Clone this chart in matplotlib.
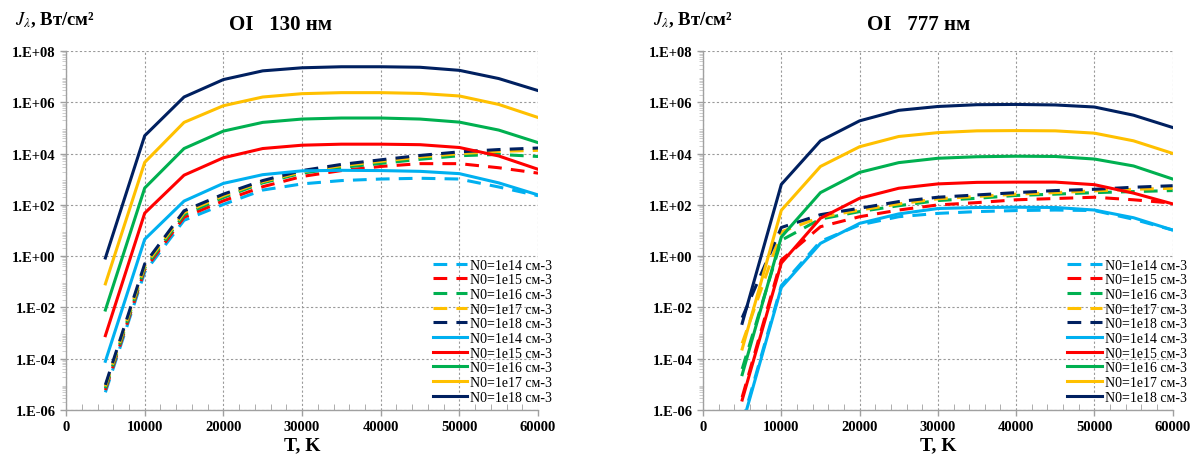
import numpy as np
import matplotlib
matplotlib.use("Agg")
import matplotlib.pyplot as plt
from matplotlib.ticker import FixedLocator, FuncFormatter, MultipleLocator

plt.rcParams["font.family"] = ["Liberation Serif", "DejaVu Serif"]
plt.rcParams["mathtext.fontset"] = "stix"

# temperatures, K
T = [5000, 10000, 15000, 20000, 25000, 30000, 35000, 40000, 45000, 50000, 55000, 60000]

labels = ["N0=1e14 см-3", "N0=1e15 см-3", "N0=1e16 см-3", "N0=1e17 см-3", "N0=1e18 см-3"]
colors = ["#00B0F0", "#FF0000", "#00B050", "#FFC000", "#002060"]

# log10 of J
# OI 130 nm, solid lines
oi130_solid_14 = [-4.10, 0.66, 2.15, 2.84, 3.18, 3.33, 3.35, 3.34, 3.31, 3.22, 2.86, 2.39]
oi130_solid_15 = [-3.10, 1.68, 3.16, 3.84, 4.20, 4.33, 4.37, 4.37, 4.35, 4.24, 3.91, 3.39]
oi130_solid_16 = [-2.10, 2.66, 4.20, 4.88, 5.22, 5.35, 5.39, 5.39, 5.35, 5.23, 4.92, 4.43]
oi130_solid_17 = [-1.08, 3.66, 5.22, 5.87, 6.21, 6.34, 6.38, 6.38, 6.35, 6.25, 5.92, 5.41]
oi130_solid_18 = [-0.07, 4.70, 6.21, 6.89, 7.23, 7.35, 7.39, 7.39, 7.37, 7.25, 6.93, 6.46]
# OI 130 nm, dashed lines
oi130_dash_14 = [-5.31, -0.62, 1.40, 2.02, 2.58, 2.82, 2.95, 3.01, 3.04, 3.01, 2.70, 2.36]
oi130_dash_15 = [-5.22, -0.52, 1.52, 2.16, 2.71, 3.11, 3.34, 3.50, 3.61, 3.61, 3.45, 3.24]
oi130_dash_16 = [-5.15, -0.45, 1.62, 2.29, 2.86, 3.24, 3.46, 3.62, 3.78, 3.92, 3.97, 3.89]
oi130_dash_17 = [-5.08, -0.38, 1.70, 2.36, 2.91, 3.29, 3.53, 3.70, 3.87, 4.00, 4.09, 4.13]
oi130_dash_18 = [-5.02, -0.30, 1.77, 2.42, 2.95, 3.34, 3.58, 3.76, 3.93, 4.07, 4.16, 4.22]

# OI 777 nm, solid lines
oi777_solid_14 = [-6.60, -1.22, 0.50, 1.28, 1.65, 1.86, 1.90, 1.91, 1.90, 1.80, 1.50, 1.02]
oi777_solid_15 = [-5.61, -0.27, 1.48, 2.26, 2.65, 2.82, 2.88, 2.89, 2.89, 2.79, 2.46, 2.04]
oi777_solid_16 = [-4.62, 0.75, 2.48, 3.27, 3.65, 3.82, 3.88, 3.90, 3.89, 3.79, 3.52, 3.01]
oi777_solid_17 = [-3.62, 1.79, 3.50, 4.27, 4.67, 4.82, 4.89, 4.90, 4.89, 4.80, 4.50, 4.01]
oi777_solid_18 = [-2.62, 2.80, 4.50, 5.28, 5.69, 5.84, 5.91, 5.92, 5.90, 5.82, 5.50, 5.02]
# OI 777 nm, dashed lines
oi777_dash_14 = [-6.50, -1.15, 0.58, 1.22, 1.54, 1.67, 1.74, 1.78, 1.80, 1.78, 1.44, 1.02]
oi777_dash_15 = [-5.50, -0.15, 1.15, 1.54, 1.80, 2.00, 2.09, 2.20, 2.25, 2.30, 2.20, 2.07]
oi777_dash_16 = [-4.40, 0.62, 1.45, 1.74, 1.97, 2.17, 2.26, 2.37, 2.42, 2.48, 2.52, 2.56]
oi777_dash_17 = [-3.40, 0.95, 1.52, 1.80, 2.04, 2.24, 2.33, 2.42, 2.48, 2.55, 2.61, 2.65]
oi777_dash_18 = [-2.40, 1.12, 1.62, 1.87, 2.13, 2.30, 2.39, 2.48, 2.56, 2.61, 2.69, 2.75]

panels = [
    ("OI   130 нм",
     [oi130_dash_14, oi130_dash_15, oi130_dash_16, oi130_dash_17, oi130_dash_18],
     [oi130_solid_14, oi130_solid_15, oi130_solid_16, oi130_solid_17, oi130_solid_18]),
    ("OI   777 нм",
     [oi777_dash_14, oi777_dash_15, oi777_dash_16, oi777_dash_17, oi777_dash_18],
     [oi777_solid_14, oi777_solid_15, oi777_solid_16, oi777_solid_17, oi777_solid_18]),
]

fig = plt.figure(figsize=(11.92, 4.56), dpi=100)
boxes = [[0.0554, 0.0987, 0.396, 0.787], [0.5898, 0.0987, 0.394, 0.787]]
title_x = [0.192, 0.727]
ylab_x = [0.013, 0.548]
leg_anchor = [(1.03, 0.018), (1.03, 0.018)]
axis_grey = "#A0A0A0"


def exp_fmt(v, pos):
    e = int(round(np.log10(v)))
    return f"1.E{e:+03d}"


for i, (title, dashed, solid) in enumerate(panels):
    ax = fig.add_axes(boxes[i])
    for vals, c, lab in zip(dashed, colors, labels):
        ax.plot(T, np.power(10.0, vals), color=c, lw=2.2, ls=(0, (4.5, 3)), label=lab)
    for vals, c, lab in zip(solid, colors, labels):
        ax.plot(T, np.power(10.0, vals), color=c, lw=2.2, label=lab)

    ax.set_yscale("log")
    ax.set_xlim(0, 60000)
    ax.set_ylim(1e-6, 1e8)
    ax.xaxis.set_major_locator(MultipleLocator(10000))
    ax.xaxis.set_minor_locator(MultipleLocator(2000))
    ax.yaxis.set_major_locator(FixedLocator([10.0 ** k for k in range(-6, 9, 2)]))
    minors = [m * 10.0 ** k for k in range(-6, 8) for m in range(2, 10)]
    ax.yaxis.set_minor_locator(FixedLocator(minors))
    ax.yaxis.set_major_formatter(FuncFormatter(exp_fmt))
    ax.yaxis.set_minor_formatter(FuncFormatter(lambda v, p: ""))

    ax.grid(True, which="major", color="#9A9A9A", ls=(0, (2, 2)), lw=0.8)
    for s in ["top", "right"]:
        ax.spines[s].set_visible(False)
    for s in ["left", "bottom"]:
        ax.spines[s].set_color(axis_grey)
        ax.spines[s].set_linewidth(1.0)
    ax.tick_params(axis="both", which="major", length=4, color=axis_grey, width=1.0,
                   labelsize=10.5)
    ax.tick_params(axis="x", which="minor", direction="in", length=4, color=axis_grey)
    ax.tick_params(axis="y", which="minor", direction="out", length=3, color="#C8C8C8", width=0.6)
    for lab in ax.get_xticklabels() + ax.get_yticklabels():
        lab.set_fontweight("bold")

    ax.set_xlabel("T, K", fontsize=14, fontweight="bold", labelpad=2)

    ax.legend(loc="lower right", bbox_to_anchor=leg_anchor[i], frameon=False,
              fontsize=10, handlelength=2.5, handletextpad=0.2,
              labelspacing=0.12, borderaxespad=0.0, borderpad=0.0)

    fig.text(title_x[i], 0.945, title, fontsize=15, fontweight="bold", va="center")
    fig.text(ylab_x[i], 0.955, r"$J_{\lambda}$, Вт/см²", fontsize=13.5, fontweight="bold",
             va="center")

fig.savefig("out.png", dpi=100)
